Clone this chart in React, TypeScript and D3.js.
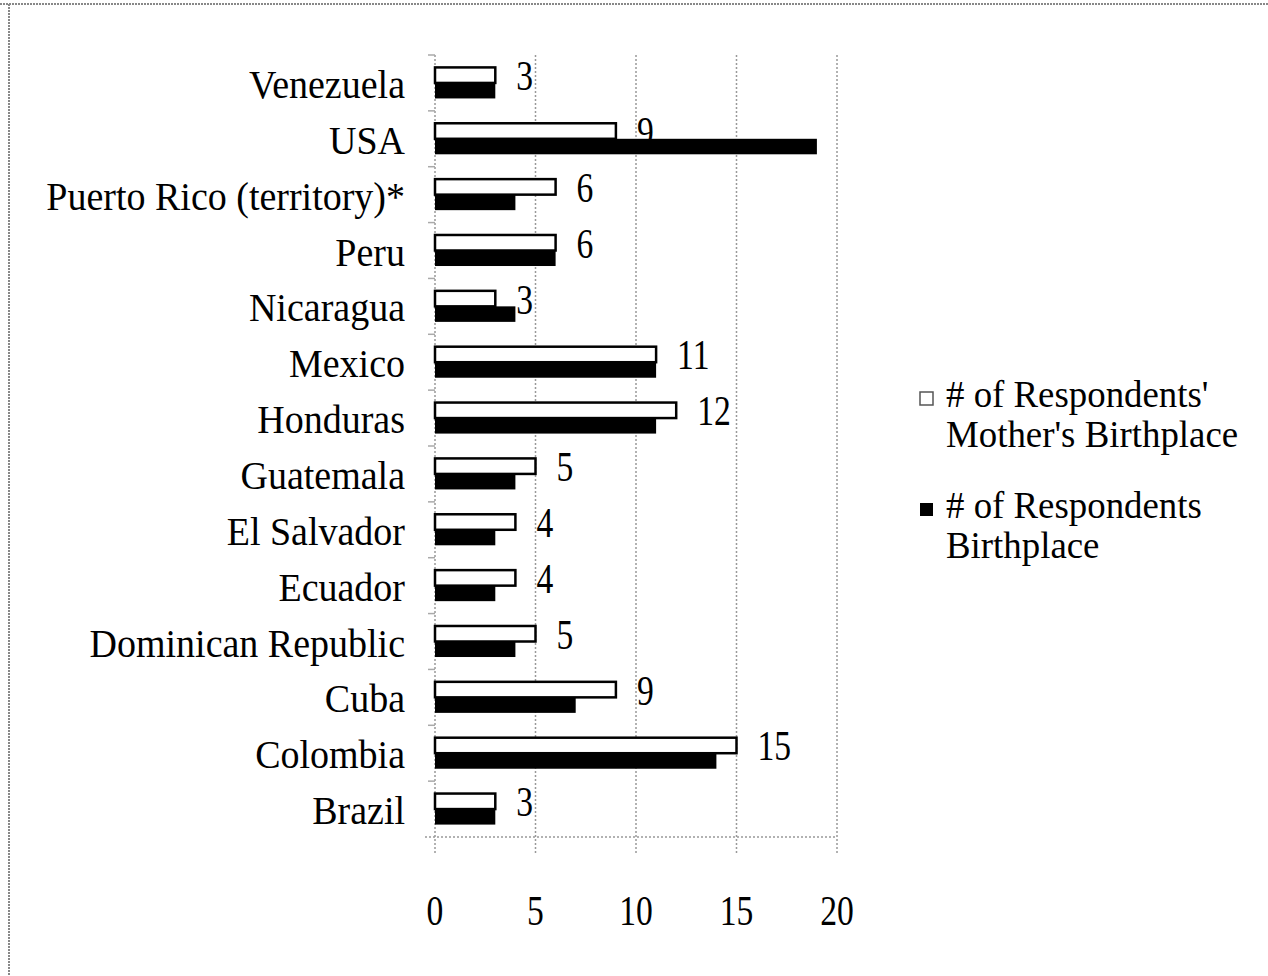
import React from 'react';
import * as d3 from 'd3';

const categories = [
  'Venezuela', 'USA', 'Puerto Rico (territory)*', 'Peru', 'Nicaragua', 'Mexico', 'Honduras',
  'Guatemala', 'El Salvador', 'Ecuador', 'Dominican Republic', 'Cuba', 'Colombia', 'Brazil',
];
const motherBirthplace = [3, 9, 6, 6, 3, 11, 12, 5, 4, 4, 5, 9, 15, 3];
const respondentBirthplace = [3, 19, 4, 6, 4, 11, 11, 4, 3, 3, 4, 7, 14, 3];
const xTicks = [0, 5, 10, 15, 20];
const seriesNames = ["# of Respondents' Mother's Birthplace", '# of Respondents Birthplace'];

const W = 1268;
const H = 976;
const FONT = '"Liberation Serif", "DejaVu Serif", serif';

const App: React.FC = () => {
  const x = d3.scaleLinear().domain([0, 20]).range([435, 837]);
  const y = d3.scaleBand<string>().domain(categories).range([55, 837]);
  const inner = d3.scaleBand<string>().domain(['m', 'r']).range([0, y.bandwidth()]).paddingOuter(0.8);
  const plotTop = 55;
  const plotBottom = 837;

  return (
    <svg width={W} height={H} style={{ position: 'absolute', left: 0, top: 0, background: '#fff' }}>
      {/* frame */}
      <line x1={0} x2={W} y1={4} y2={4} stroke="#888" strokeWidth={2} strokeDasharray="2,1" />
      <line x1={9} x2={9} y1={4} y2={H} stroke="#888" strokeWidth={2} strokeDasharray="2,1" />

      {/* grid lines */}
      {xTicks.map(t => (
        <line key={'g' + t} x1={x(t)} x2={x(t)} y1={plotTop} y2={853}
          stroke="#999" strokeWidth={1.5} strokeDasharray="2,2" />
      ))}
      <line x1={425} x2={x(20)} y1={plotBottom} y2={plotBottom} stroke="#999" strokeWidth={1.5} strokeDasharray="2,2" />
      {categories.map(c => (
        <line key={'t' + c} x1={428} x2={x(0)} y1={y(c)!} y2={y(c)!} stroke="#aaa" strokeWidth={1.5} />
      ))}

      {/* white bars */}
      {categories.map((c, i) => (
        <rect key={'m' + c} x={x(0)} y={y(c)! + inner('m')!} width={x(motherBirthplace[i]) - x(0)}
          height={inner.bandwidth()} fill="#fff" stroke="#000" strokeWidth={2.5} />
      ))}

      {/* value labels (drawn beneath the black bars) */}
      {categories.map((c, i) => (
        <g key={'v' + c} transform={`translate(${x(motherBirthplace[i]) + 21},${y(c)! + inner('m')! + inner.bandwidth() / 2 + 15})`}>
          <text transform="scale(0.8,1)" fontFamily={FONT} fontSize={42} fill="#000">{motherBirthplace[i]}</text>
        </g>
      ))}

      {/* black bars */}
      {categories.map((c, i) => (
        <rect key={'r' + c} x={x(0)} y={y(c)! + inner('r')!} width={x(respondentBirthplace[i]) - x(0)}
          height={inner.bandwidth()} fill="#000" />
      ))}

      {/* category labels */}
      {categories.map(c => (
        <g key={'c' + c} transform={`translate(405,${y(c)! + y.bandwidth() / 2 + 15})`}>
          <text transform="scale(0.95,1)" textAnchor="end" fontFamily={FONT} fontSize={40} fill="#000">{c}</text>
        </g>
      ))}

      {/* x tick labels */}
      {xTicks.map(t => (
        <g key={'x' + t} transform={`translate(${x(t)},925)`}>
          <text transform="scale(0.8,1)" textAnchor="middle" fontFamily={FONT} fontSize={42} fill="#000">{t}</text>
        </g>
      ))}

      {/* legend */}
      <rect x={920} y={392} width={13} height={13} fill="#fff" stroke="#555" strokeWidth={1.5} />
      <g transform="translate(946,407)">
        <text transform="scale(0.97,1)" fontFamily={FONT} fontSize={38} fill="#000">
          <tspan x={0}>{seriesNames[0].slice(0, 17)}</tspan>
          <tspan x={0} dy={40}>{seriesNames[0].slice(18)}</tspan>
        </text>
      </g>
      <rect x={920} y={503} width={13} height={13} fill="#000" />
      <g transform="translate(946,518)">
        <text transform="scale(0.97,1)" fontFamily={FONT} fontSize={38} fill="#000">
          <tspan x={0}>{seriesNames[1].slice(0, 16)}</tspan>
          <tspan x={0} dy={40}>{seriesNames[1].slice(17)}</tspan>
        </text>
      </g>
    </svg>
  );
};

export default App;
